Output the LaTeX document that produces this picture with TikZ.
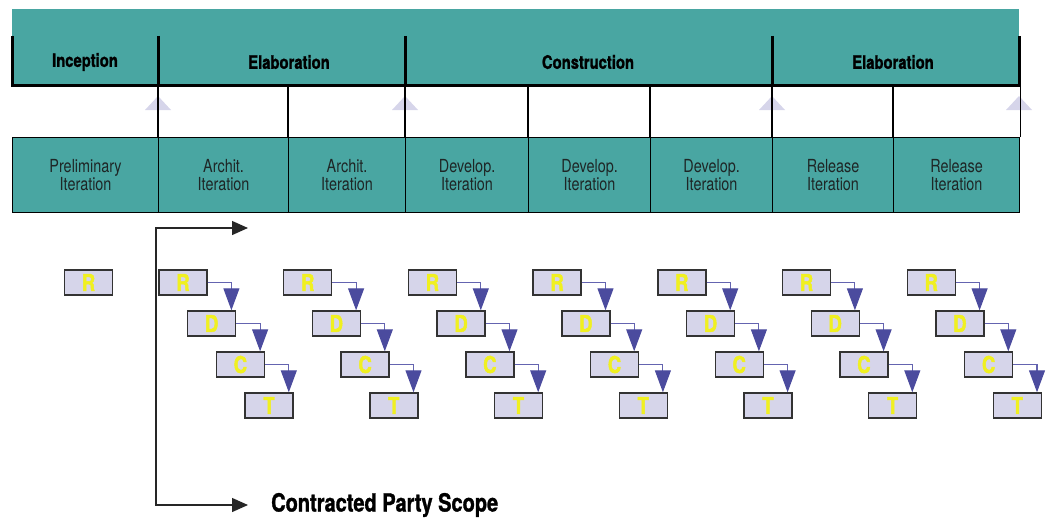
\documentclass[tikz,border=0pt]{standalone}
\usepackage{fontspec}
\setmainfont{TeX Gyre Heros}[FakeStretch=0.80]
\newfontfamily\heavyfont{TeX Gyre Heros}[FakeStretch=0.80, FakeBold=1.2]
\newfontfamily\letterfont{TeX Gyre Heros}[FakeStretch=0.80, FakeBold=2]
\usetikzlibrary{arrows.meta}
\definecolor{bandteal}{HTML}{49A6A2}
\definecolor{lav}{HTML}{D6D5EA}
\definecolor{flowblue}{HTML}{4B4B9E}
\definecolor{flowline}{HTML}{6464B0}
\definecolor{letteryellow}{HTML}{F0F020}
\definecolor{celltext}{HTML}{1E2626}
\tikzset{
  phase/.style={inner sep=0pt, font=\heavyfont\fontsize{18.5}{20}\selectfont\bfseries, text=black},
  itcell/.style={draw=black, line width=1.2pt, fill=bandteal, minimum height=75pt,
    inner sep=0pt, align=center, text=celltext,
    font=\fontsize{18}{17.5}\selectfont},
  taskbox/.style={draw=black!80, line width=1.4pt, fill=lav, minimum width=48pt,
    minimum height=25pt, inner sep=0pt, text=letteryellow,
    font=\letterfont\fontsize{23}{23}\selectfont\bfseries},
  flow/.style={draw=flowline, line width=1.1pt,
    -{Triangle[length=22pt,width=16pt,color=flowblue]}},
  milestone/.style={fill=lav},
  bracket/.style={line width=3pt, black},
  scopeline/.style={line width=1.3pt, black!85,
    {Triangle[length=16pt,width=14pt]}-{Triangle[length=16pt,width=14pt]}}
}
\begin{document}
\begin{tikzpicture}[x=1pt, y=-1pt]
\useasboundingbox (0,0) rectangle (1049,519);

% phase band
\fill[bandteal] (12,9) rectangle (1019,85);
\node[phase] (ph1) at (85,62)    {Inception};
\node[phase] (ph2) at (289,62)   {Elaboration};
\node[phase] (ph3) at (588,62)   {Construction};
\node[phase] (ph4) at (893,62)   {Elaboration};
\coordinate (bandbot) at (0,85);
\draw[bracket] (12,36) -- (12,85) -- (1019,85) -- (1019,36);
\foreach \x in {158,405,772}
  \draw[bracket] (\x,36) -- (\x,85);

% iteration row
\node[itcell, minimum width=146pt, anchor=north west] (it1) at (12,137)  {Preliminary\\Iteration};
\node[itcell, minimum width=130pt, anchor=north west] (it2) at (158,137) {Archit.\\Iteration};
\node[itcell, minimum width=117pt, anchor=north west] (it3) at (288,137) {Archit.\\Iteration};
\node[itcell, minimum width=123pt, anchor=north west] (it4) at (405,137) {Develop.\\Iteration};
\node[itcell, minimum width=122pt, anchor=north west] (it5) at (528,137) {Develop.\\Iteration};
\node[itcell, minimum width=122pt, anchor=north west] (it6) at (650,137) {Develop.\\Iteration};
\node[itcell, minimum width=121pt, anchor=north west] (it7) at (772,137) {Release\\Iteration};
\node[itcell, minimum width=126pt, anchor=north west] (it8) at (893,137) {Release\\Iteration};

% milestones
\foreach \x in {158,405,772,1019}
  \fill[milestone] (\x,96) -- (\x+13,110) -- (\x-13,110) -- cycle;

% iteration boundaries up to the band
\foreach \n in {2,...,8}
  \draw[line width=1.2pt] (it\n.north west) -- (it\n.north west |- bandbot);
\draw[line width=1.2pt] (it8.north east) -- (it8.north east |- bandbot);

% scope bracket
\node[anchor=west, inner sep=0pt, font=\heavyfont\fontsize{25}{25}\selectfont\bfseries] (scope) at (271,505) {Contracted Party Scope};
\coordinate (scopeA) at (248,228);
\coordinate (scopeB) at (248,505);
\draw[scopeline] (scopeA) -- (156,228) -- (156,505) -- (scopeB);

% preliminary requirements
\node[taskbox] (r0) at (88.5,282.5) {R};

% R-D-C-T cascades
\foreach \k in {1,...,7} {
  \pgfmathsetmacro{\bx}{183+124.7*(\k-1)}
  \node[taskbox] (r\k) at (\bx,282.5) {R};
  \node[taskbox] (d\k) at (\bx+28.7,323.5) {D};
  \node[taskbox] (c\k) at (\bx+57.4,364.5) {C};
  \node[taskbox] (t\k) at (\bx+86.1,405.5) {T};
  \draw[flow] (r\k.east) -| ([xshift=-5pt]d\k.north east);
  \draw[flow] (d\k.east) -| ([xshift=-5pt]c\k.north east);
  \draw[flow] (c\k.east) -| ([xshift=-5pt]t\k.north east);
}
\end{tikzpicture}
\end{document}
